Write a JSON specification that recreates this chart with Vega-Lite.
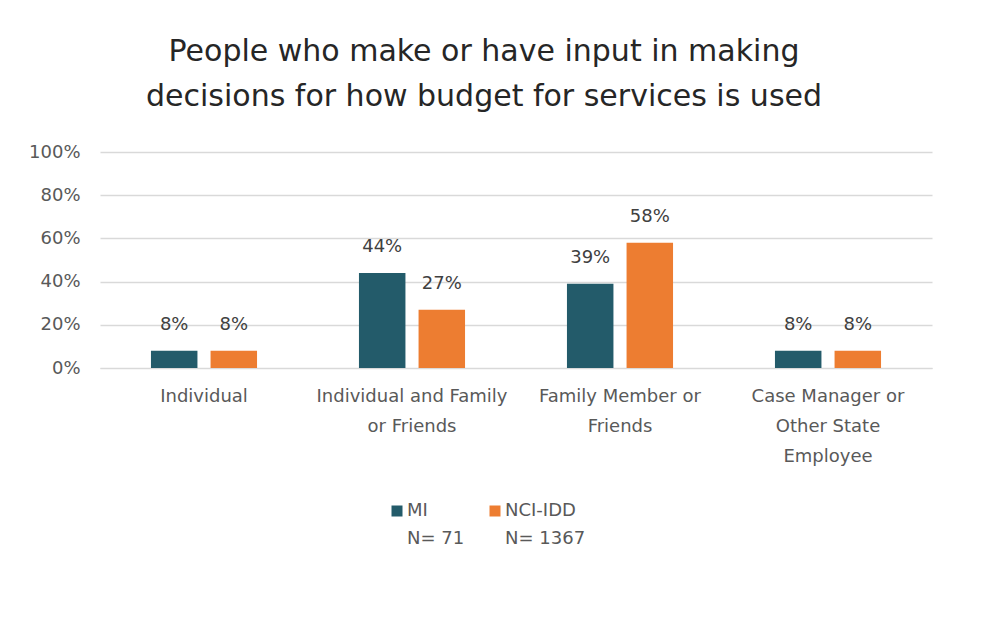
{
  "$schema": "https://vega.github.io/schema/vega-lite/v6.json",
  "width": 832,
  "height": 216,
  "autosize": {"type": "none"},
  "padding": {"left": 100, "top": 152, "right": 62, "bottom": 249},
  "background": "white",
  "title": {
    "text": ["People who make or have input in making", "decisions for how budget for services is used"],
    "font": "DejaVu Sans",
    "fontSize": 30,
    "fontWeight": "normal",
    "color": "#262626",
    "anchor": "middle",
    "frame": "group",
    "dx": -32,
    "offset": 31,
    "lineHeight": 45
  },
  "config": {
    "view": {"stroke": null},
    "style": {"guide-label": {"lineHeight": 28}}
  },
  "data": {
    "values": [
      {"category": "Individual", "group": "MI", "value": 0.08},
      {"category": "Individual", "group": "NCI-IDD", "value": 0.08},
      {"category": "Individual and Family or Friends", "group": "MI", "value": 0.44},
      {"category": "Individual and Family or Friends", "group": "NCI-IDD", "value": 0.27},
      {"category": "Family Member or Friends", "group": "MI", "value": 0.39},
      {"category": "Family Member or Friends", "group": "NCI-IDD", "value": 0.58},
      {"category": "Case Manager or Other State Employee", "group": "MI", "value": 0.08},
      {"category": "Case Manager or Other State Employee", "group": "NCI-IDD", "value": 0.08}
    ]
  },
  "encoding": {
    "x": {
      "field": "category",
      "type": "nominal",
      "sort": ["Individual", "Individual and Family or Friends", "Family Member or Friends", "Case Manager or Other State Employee"],
      "scale": {"paddingInner": 0.49, "paddingOuter": 0.245},
      "axis": {
        "title": null,
        "labelAngle": 0,
        "labelFont": "DejaVu Sans",
        "labelFontSize": 18,
        "labelColor": "#595959",
        "labelBaseline": "top",
        "labelPadding": 19,
        "labelLineHeight": 30,
        "labelLimit": 300,
        "ticks": false,
        "domainColor": "#d9d9d9",
        "labelExpr": "datum.label == 'Individual and Family or Friends' ? ['Individual and Family', 'or Friends'] : datum.label == 'Family Member or Friends' ? ['Family Member or', 'Friends'] : datum.label == 'Case Manager or Other State Employee' ? ['Case Manager or', 'Other State', 'Employee'] : datum.label"
      }
    },
    "xOffset": {
      "field": "group",
      "type": "nominal",
      "sort": ["MI", "NCI-IDD"],
      "scale": {"paddingInner": 0.22}
    },
    "y": {
      "field": "value",
      "type": "quantitative",
      "scale": {"domain": [0, 1]},
      "axis": {
        "title": null,
        "values": [0, 0.2, 0.4, 0.6, 0.8, 1],
        "format": ".0%",
        "domain": false,
        "ticks": false,
        "labelFont": "DejaVu Sans",
        "labelFontSize": 18,
        "labelColor": "#595959",
        "labelPadding": 20,
        "gridColor": "#d9d9d9",
        "gridWidth": 1.3
      }
    }
  },
  "layer": [
    {
      "mark": {"type": "bar"},
      "encoding": {
        "color": {
          "field": "group",
          "type": "nominal",
          "scale": {"domain": ["MI", "NCI-IDD"], "range": ["#235b6a", "#ed7d31"]},
          "legend": {
            "title": null,
            "orient": "none",
            "legendX": 288,
            "legendY": 350,
            "direction": "horizontal",
            "symbolType": "square",
            "symbolSize": 121,
            "symbolStrokeWidth": 0,
            "labelFont": "DejaVu Sans",
            "labelFontSize": 18,
            "labelColor": "#595959",
            "labelBaseline": "middle",
            "labelOffset": 1,
            "columnPadding": 21,
            "labelExpr": "datum.label == 'MI' ? ['MI', 'N= 71'] : ['NCI-IDD', 'N= 1367']"
          }
        }
      }
    },
    {
      "mark": {"type": "text", "baseline": "bottom", "dy": -17, "font": "DejaVu Sans", "fontSize": 18, "color": "#404040"},
      "encoding": {
        "text": {"field": "value", "type": "quantitative", "format": ".0%"}
      }
    }
  ]
}
